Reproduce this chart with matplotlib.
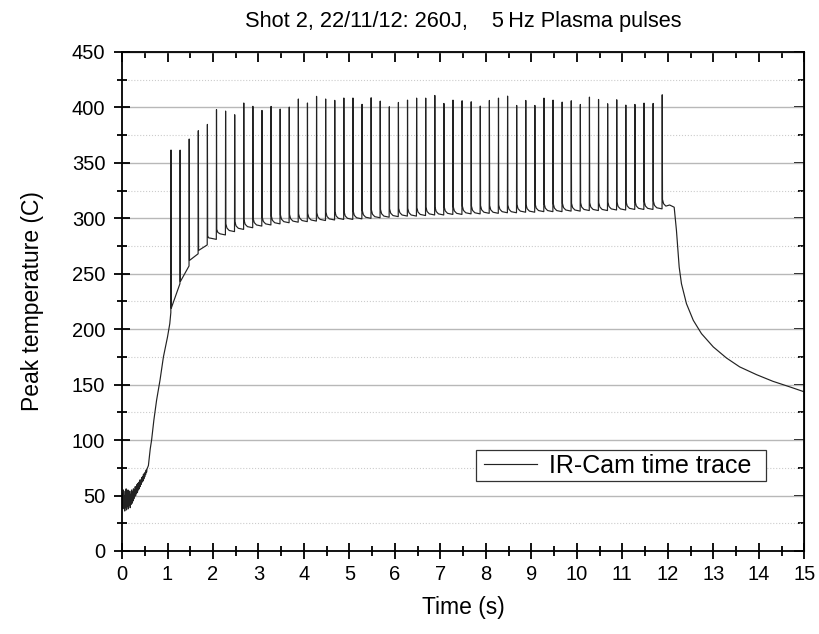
import matplotlib
matplotlib.use("Agg")
import matplotlib.pyplot as plt
import numpy as np
from matplotlib.patches import Rectangle
from matplotlib.ticker import MultipleLocator

plt.rcParams['font.family'] = ['Liberation Sans', 'DejaVu Sans']

# -----------------------------------------------------------
# data
# -----------------------------------------------------------

# noisy start, 0 .. 0.55 s, 10 ms steps (C)
noise_t0 = 0.0
noise_dt = 0.01
noise_vals = [45, 52, 38, 55, 40, 50, 36, 54, 39, 56, 37, 53, 40, 55, 38, 52,
              41, 54, 39, 51, 42, 55, 43, 53, 45, 56, 47, 55, 49, 58, 50, 57,
              52, 60, 53, 61, 55, 62, 56, 64, 58, 64, 60, 66, 62, 67, 63, 69,
              65, 70, 67, 71, 69, 73, 71, 74]

# heating ramp before the first pulse
ramp_t = [0.58, 0.62, 0.65, 0.70, 0.76, 0.835, 0.91, 1.00, 1.05]
ramp_v = [77, 92, 100, 118, 136, 154, 175, 193, 205]

# plasma pulses at 5 Hz
pulse_start = 1.077
pulse_period = 0.2
peaks = [361.6, 361.5, 371.5, 379.0, 384.7, 398.0, 396.7, 393.4, 404.0, 401.0,
         397.3, 400.9, 398.5, 400.3, 407.6, 404.0, 410.0, 407.6, 406.4, 408.5,
         408.5, 402.8, 408.7, 405.7, 400.6, 404.5, 406.6, 408.4, 408.4, 410.8,
         403.6, 406.6, 406.0, 405.1, 401.2, 406.3, 408.4, 410.2, 401.8, 406.3,
         401.8, 408.4, 406.6, 404.8, 406.0, 402.7, 409.3, 407.2, 403.3, 406.9,
         402.1, 402.7, 403.9, 403.6, 411.4]
# temperature just before each pulse
bases = [215, 241, 257, 268, 276, 281, 285, 288, 290, 291.5,
         293, 294, 295, 296, 296.5, 297, 297.5, 298, 298.5, 299,
         299, 299.5, 300, 300.5, 301, 301.5, 302, 302, 302.5, 303,
         303, 303.5, 303.5, 304, 304, 304.5, 304.5, 305, 305, 305.5,
         305.5, 306, 306, 306, 306.5, 306.5, 307, 307, 307, 307.5,
         307.5, 308, 308, 308, 308.5]
# temperature right after each pulse, relative to the next base
hooks = [-22, -14, -6, -5, 3, 5] + [7] * 49
end_plateau = [312, 310]

# cool-down after the last pulse
cool_t = [12.14, 12.19, 12.25, 12.30, 12.41, 12.56, 12.74, 13.0, 13.29,
          13.58, 13.95, 14.31, 14.68, 15.0]
cool_v = [310, 289, 256, 241, 223, 208, 196, 184, 174, 166, 159, 153, 148,
          143.5]

# -----------------------------------------------------------
# build the trace
# -----------------------------------------------------------

t = [noise_t0 + i * noise_dt for i in range(len(noise_vals))] + ramp_t
v = list(noise_vals) + ramp_v

npulse = len(peaks)
for k in range(npulse):
    ts = pulse_start + k * pulse_period
    nxt = bases[k + 1] if k + 1 < npulse else end_plateau[0] - 2
    post = nxt + hooks[k]
    t += [ts - 0.004, ts, ts + 0.006]
    v += [bases[k], peaks[k], post]
    if hooks[k] > 0:
        t += [ts + 0.03, ts + 0.08]
        v += [nxt + hooks[k] * 0.45, nxt + 1]
    if k + 1 < npulse:
        t.append(ts + pulse_period - 0.006)
        v.append(nxt)

t += [cool_t[0] - 0.1]
v += [end_plateau[0]]
t += cool_t
v += cool_v

# -----------------------------------------------------------
# plot
# -----------------------------------------------------------

fig = plt.figure(figsize=(8.19, 6.34), dpi=100)
ax = fig.add_axes([0.149, 0.131, 0.833, 0.787])

line = ax.plot(t, v, color='#222222', lw=0.85)[0]

ax.set_xlim(0, 15)
ax.set_ylim(0, 450)
ax.xaxis.set_major_locator(MultipleLocator(1))
ax.xaxis.set_minor_locator(MultipleLocator(0.5))
ax.yaxis.set_major_locator(MultipleLocator(50))
ax.yaxis.set_minor_locator(MultipleLocator(25))

ax.grid(axis='y', which='major', color='#b8b8b8', lw=1.0, ls='-')
ax.grid(axis='y', which='minor', color='#cccccc', lw=0.8, ls=':')
ax.set_axisbelow(True)

for s in ax.spines.values():
    s.set_linewidth(1.3)

ax.tick_params(which='major', direction='inout', length=12, width=1.3,
               labelsize=14.5, pad=4)
ax.tick_params(axis='y', which='major', pad=6)
ax.tick_params(which='minor', direction='inout', length=7, width=1.3)

# inward ticks on the top and right frame
top = ax.secondary_xaxis('top')
top.xaxis.set_major_locator(MultipleLocator(1))
top.xaxis.set_minor_locator(MultipleLocator(0.5))
top.tick_params(which='major', direction='in', length=7, width=1.3,
                labeltop=False)
top.tick_params(which='minor', direction='in', length=4, width=1.3)
right = ax.secondary_yaxis('right')
right.yaxis.set_major_locator(MultipleLocator(50))
right.yaxis.set_minor_locator(MultipleLocator(25))
right.tick_params(which='major', direction='in', length=7, width=1.3,
                  labelright=False)
right.tick_params(which='minor', direction='in', length=4, width=1.3)

ax.set_xlabel('Time (s)', fontsize=16.5, labelpad=9)
ax.set_ylabel('Peak temperature (C)', fontsize=16.5, labelpad=20)
ax.set_title('Shot 2, 22/11/12: 260J,    5\u2009Hz Plasma pulses',
             fontsize=15.7, pad=18)

# legend in a plain box
ax.add_patch(Rectangle((0.519, 0.140), 0.425, 0.062, transform=ax.transAxes,
                       facecolor='white', edgecolor='#333333', lw=0.9,
                       zorder=5))
leg = ax.legend([line], ['IR-Cam time trace'], loc='center left',
                bbox_to_anchor=(0.531, 0.171), fontsize=18, frameon=False,
                handlelength=2.1, handletextpad=0.5, borderpad=0,
                borderaxespad=0)
leg.set_zorder(6)

fig.savefig('out.png', dpi=100)
